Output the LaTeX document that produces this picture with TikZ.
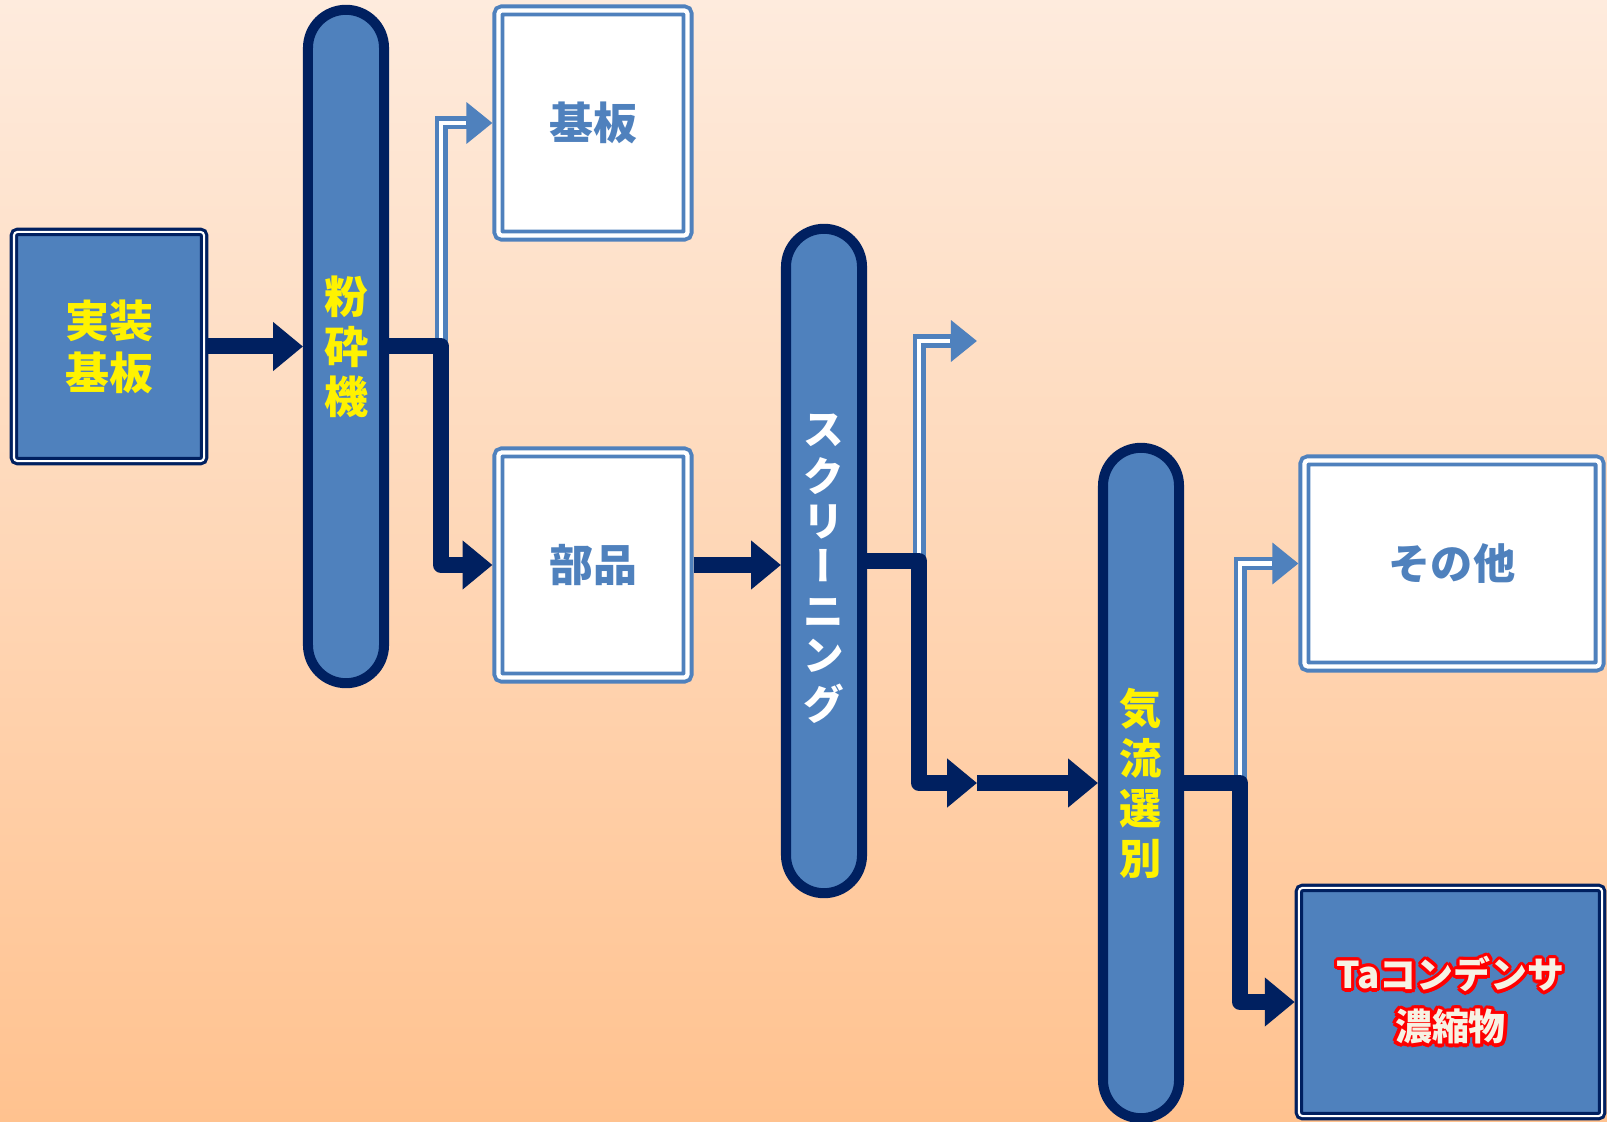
\documentclass[tikz,border=0pt]{standalone}
\usepackage{fontspec}
\setmainfont{Noto Sans CJK JP}
\usepackage{contour}
\usetikzlibrary{arrows.meta}
\definecolor{navy}{RGB}{0,32,96}
\definecolor{boxblue}{RGB}{79,129,189}
\definecolor{bgtop}{RGB}{254,235,221}
\definecolor{bgbot}{RGB}{255,194,143}
\definecolor{cream}{RGB}{246,242,228}
\contourlength{0.9pt}
\begin{document}
\begin{tikzpicture}[x=0.01cm, y=-0.01cm,
	pill/.style={draw=navy, fill=boxblue, line width=2.85pt, rounded corners=0.38cm, minimum width=0.76cm, inner sep=0pt, align=center},
	wbox/.style={draw=boxblue, fill=white, line width=1.1pt, double=white, double distance=1.2pt, outer sep=1.7pt, rounded corners=1pt, minimum width=1.89cm, minimum height=2.25cm, text=boxblue, font=\bfseries\fontsize{12.5}{15}\selectfont},
	nbox/.style={draw=navy, fill=boxblue, line width=0.9pt, double=white, double distance=0.6pt, outer sep=1.2pt, rounded corners=1pt, align=center},
	flow/.style={draw=navy, line width=4.55pt, line join=round, -{Triangle[length=8.5pt, width=13.4pt]}},
	pipe/.style={draw=boxblue, line width=3.7pt, -{Triangle[length=7.4pt, width=11.4pt]}, postaction={draw=white, line width=1.3pt, -, shorten >=7.6pt}}
	]
	\useasboundingbox (0,0) rectangle (1607,1122);
	\shade[top color=bgtop, bottom color=bgbot] (0,0) rectangle (1607,1122);
	
	\node [nbox, minimum width=1.90cm, minimum height=2.29cm, text=yellow, font=\bfseries\fontsize{12.5}{14.8}\selectfont] (jisso) at (109,346.5) {実装\\基板};
	\node [pill, minimum height=6.73cm, text=yellow, font=\bfseries\fontsize{12.5}{14.2}\selectfont] (funsai) at (346,346.5) {粉\\砕\\機};
	\node [wbox] (kiban) at (593,123) {基板};
	\node [wbox] (buhin) at (593,565) {部品};
	\node [pill, minimum height=6.64cm, text=white, font=\bfseries\fontsize{11.5}{12.6}\selectfont] (screen) at (824,561) {\raisebox{-3.4pt}[\height][\depth]{\begin{tabular}{@{}c@{}}ス\\ク\\リ\\{\addfontfeature{RawFeature=+vert}ー}\\ニ\\ン\\グ\end{tabular}}};
	\node [pill, minimum height=6.70cm, text=yellow, font=\bfseries\fontsize{12}{14.2}\selectfont] (kiryu) at (1141,783) {気\\流\\選\\別};
	\node [wbox, minimum width=2.95cm, minimum height=2.06cm, font=\bfseries\fontsize{12}{15}\selectfont] (sonota) at (1452,563.5) {その他};
	\node [nbox, minimum width=3.03cm, minimum height=2.28cm, text=cream, font=\bfseries\fontsize{10.5}{14.8}\selectfont] (ta) at (1450.5,1002) {\contour{red}{Taコンデンサ}\\\contour{red}{濃縮物}};
	
	\path (funsai.east) ++(52,0) coordinate (t1);
	\path (screen.east) ++(52,0) coordinate (t2);
	\path (kiryu.east) ++(56,0) coordinate (t3);
	\coordinate (relay) at (977,783);
	\coordinate (rest) at (977,341);
	
	\draw [pipe] (t1) |- (kiban.west);
	\draw [pipe] (t2) |- (rest);
	\draw [pipe] (t3) |- (sonota.west);
	
	\draw [flow] (jisso.east) -- (funsai.west);
	\draw [flow] (funsai.east) -- (t1) |- (buhin.west);
	\draw [flow] (buhin.east) -- (buhin.east -| screen.west);
	\draw [flow] (screen.east) -- (t2) |- (relay);
	\draw [flow] (relay) -- (kiryu.west);
	\draw [flow] (kiryu.east) -- (t3) |- (ta.west);
\end{tikzpicture}
\end{document}
